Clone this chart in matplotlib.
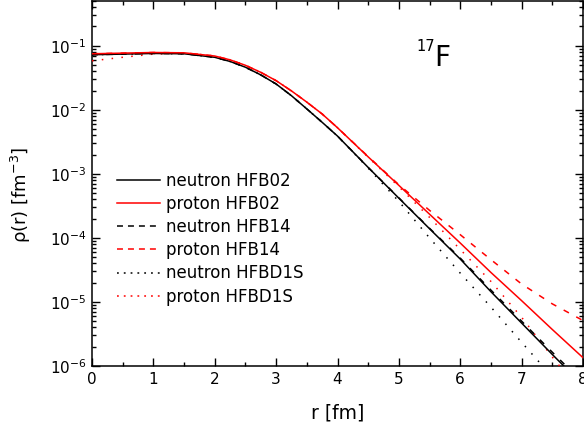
import numpy as np
import matplotlib
matplotlib.use("Agg")
import matplotlib.pyplot as plt
from matplotlib.lines import Line2D
from matplotlib.ticker import LogLocator, MultipleLocator, NullFormatter

# ---------------- data (log10 of density in fm^-3) ----------------
r = [0, 0.5, 1, 1.5, 2, 2.25, 2.5, 2.75, 3, 3.25, 3.5, 3.75, 4,
     4.5, 5, 5.5, 6, 6.5, 7, 7.5, 8]

log_n_hfb02 = [-1.14, -1.13, -1.12, -1.125, -1.18, -1.245, -1.335, -1.455, -1.597,
               -1.78, -1.986, -2.195, -2.41, -2.90, -3.38, -3.857, -4.33, -4.84,
               -5.33, -5.82, -6.30]
log_p_hfb02 = [-1.125, -1.115, -1.105, -1.11, -1.16, -1.22, -1.305, -1.415, -1.545,
               -1.705, -1.88, -2.065, -2.28, -2.735, -3.18, -3.63, -4.08, -4.54,
               -4.98, -5.43, -5.87]
log_n_hfb14 = [-1.14, -1.13, -1.12, -1.125, -1.18, -1.245, -1.335, -1.455, -1.597,
               -1.78, -1.986, -2.195, -2.41, -2.90, -3.375, -3.85, -4.315, -4.815,
               -5.30, -5.785, -6.26]
log_p_hfb14 = [-1.125, -1.115, -1.105, -1.11, -1.16, -1.22, -1.305, -1.415, -1.545,
               -1.705, -1.88, -2.065, -2.28, -2.73, -3.17, -3.57, -3.95, -4.34,
               -4.72, -5.03, -5.29]
log_n_hfbd1s = [-1.14, -1.13, -1.12, -1.125, -1.18, -1.245, -1.335, -1.455, -1.597,
                -1.78, -1.986, -2.195, -2.41, -2.91, -3.43, -4.00, -4.55, -5.08,
                -5.63, -6.17, -6.70]
log_p_hfbd1s = [-1.235, -1.18, -1.13, -1.11, -1.16, -1.22, -1.305, -1.415, -1.545,
                -1.705, -1.88, -2.065, -2.28, -2.74, -3.20, -3.68, -4.18, -4.68,
                -5.24, -5.86, -6.45]

labels = ["neutron HFB02", "proton HFB02", "neutron HFB14",
          "proton HFB14", "neutron HFBD1S", "proton HFBD1S"]
colors = ["black", "red", "black", "red", "black", "red"]
styles = ["solid", "solid", "dashed", "dashed", "dotted", "dotted"]

x_ticks = [0, 1, 2, 3, 4, 5, 6, 7, 8]

# ---------------- styling ----------------
plt.rcParams["font.family"] = ["DejaVu Sans"]
plt.rcParams["mathtext.fontset"] = "dejavusans"
plt.rcParams["lines.scale_dashes"] = False

fig = plt.figure(figsize=(5.84, 4.29), dpi=100)
ax = fig.add_axes([92 / 584, 63 / 429, 491 / 584, 365 / 429])

dash_plot = {"solid": None, "dashed": (4.3, 6.0), "dotted": (1.1, 6.0)}
dash_leg = {"solid": None, "dashed": (4.3, 3.6), "dotted": (1.3, 3.6)}

series = [log_n_hfb02, log_p_hfb02, log_n_hfb14, log_p_hfb14, log_n_hfbd1s, log_p_hfbd1s]
order = [4, 5, 2, 3, 0, 1]
for i in order:
    y = 10.0 ** np.array(series[i])
    ln, = ax.plot(r, y, color=colors[i], lw=1.1, zorder=3 + (i < 2))
    if dash_plot[styles[i]] is not None:
        ln.set_dashes(dash_plot[styles[i]])

ax.set_yscale("log")
ax.set_xlim(0, 8)
ax.set_ylim(1e-6, 0.5)

ax.set_xticks(x_ticks)
ax.xaxis.set_minor_locator(MultipleLocator(0.5))
ax.yaxis.set_major_locator(LogLocator(base=10, numticks=20))
ax.yaxis.set_minor_locator(LogLocator(base=10, subs=np.arange(2, 10), numticks=20))
ax.yaxis.set_minor_formatter(NullFormatter())

ax.tick_params(which="both", direction="in", top=True, right=True, width=1.0)
ax.tick_params(which="major", length=6, labelsize=11, pad=4)
ax.tick_params(which="minor", length=3)
for sp in ax.spines.values():
    sp.set_linewidth(1.1)

ax.set_xlabel("r [fm]", fontsize=13.5)
ax.xaxis.set_label_coords(0.5, -0.103)
ax.set_ylabel(r"ρ(r) [fm$^{-3}$]", fontsize=13)
ax.yaxis.set_label_coords(-0.12, 0.47)

# nucleus label
ax.text(5.57, 0.0485, "F", fontsize=20, ha="left", va="baseline")
ax.text(5.28, 0.0835, "17", fontsize=10.5, ha="left", va="baseline")

# legend
handles = []
for i in range(6):
    h = Line2D([], [], color=colors[i], lw=1.1)
    if dash_leg[styles[i]] is not None:
        h.set_dashes(dash_leg[styles[i]])
    handles.append(h)
ax.legend(handles, labels, loc="upper left", bbox_to_anchor=(0.05, 0.532),
          frameon=False, fontsize=12, handlelength=2.6, handletextpad=0.35,
          labelspacing=0.31, borderpad=0, borderaxespad=0)

fig.savefig("out.png", dpi=100)
